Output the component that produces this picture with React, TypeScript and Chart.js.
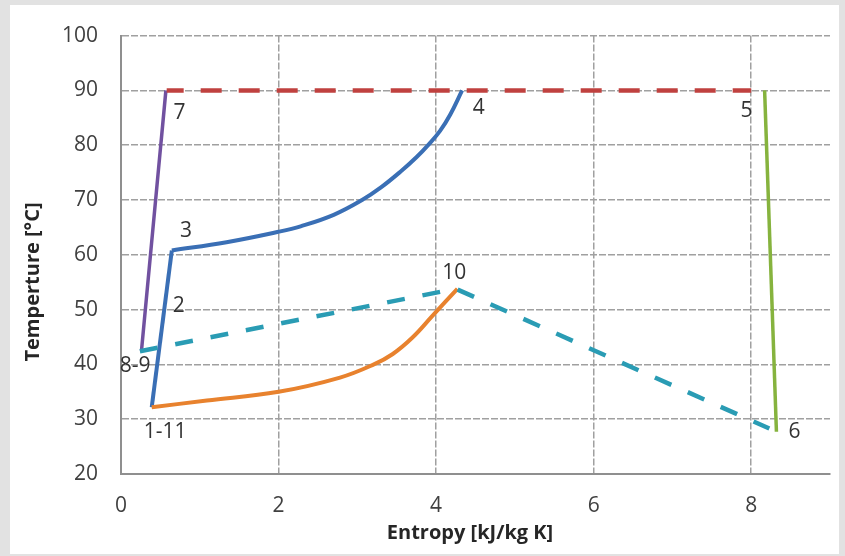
import React, { useEffect, useRef } from "react";
import { Chart, registerables } from "chart.js";

Chart.register(...registerables);

// ---- data (entropy [kJ/kg K], temperature [°C]) ----
const blueRiseS = [0.39, 0.645];
const blueRiseT = [32.2, 60.8];
const blueCurveS = [0.645, 1.34, 2.0, 2.28, 2.7, 3.06, 3.3, 3.55, 3.75, 3.91, 4.05, 4.18, 4.33];
const blueCurveT = [60.8, 62.3, 64.2, 65.2, 67.3, 70.0, 72.3, 75.2, 77.8, 80.2, 82.6, 85.6, 90.0];
const orangeS = [0.39, 1.09, 2.0, 2.78, 3.21, 3.45, 3.7, 3.95, 4.27];
const orangeT = [32.2, 33.4, 35.0, 37.6, 40.0, 41.9, 44.9, 48.8, 53.8];
const tealS = [0.24, 4.25, 8.23];
const tealT = [42.4, 53.8, 28.3];
const purpleS = [0.26, 0.57];
const purpleT = [42.5, 90.0];
const redS = [0.58, 8.0];
const redT = [90.0, 90.0];
const greenS = [8.17, 8.32];
const greenT = [90.0, 27.7];

const pointLabels = ["7", "4", "5", "3", "2", "10", "8-9", "1-11", "6"];
const pointLabelS = [0.744, 4.54, 7.94, 0.824, 0.733, 4.23, 0.178, 0.56, 8.55];
const pointLabelT = [85.8, 86.7, 86.3, 64.4, 50.6, 56.7, 39.7, 27.6, 27.65];

const xTitle = "Entropy [kJ/kg K]";
const yTitle = "Temperture [°C]";

const toXY = (xs: number[], ys: number[]) => xs.map((x, i) => ({ x, y: ys[i] }));

const FONT = "'Open Sans', 'Noto Sans', sans-serif";

export default function App() {
  const ref = useRef<HTMLCanvasElement | null>(null);

  useEffect(() => {
    const canvas = ref.current;
    if (!canvas) return;

    const bgPlugin = {
      id: "bgPanel",
      beforeDraw(chart: any) {
        const ctx = chart.ctx;
        ctx.save();
        ctx.fillStyle = "#e2e2e2";
        ctx.fillRect(0, 0, chart.width, chart.height);
        ctx.fillStyle = "#ffffff";
        ctx.fillRect(10, 5, 829, 549);
        ctx.restore();
      },
    };

    const textPlugin = {
      id: "texts",
      afterDatasetsDraw(chart: any) {
        const ctx = chart.ctx;
        const xs = chart.scales.x;
        const ys = chart.scales.y;
        ctx.save();
        ctx.fillStyle = "#333333";
        ctx.font = `21px ${FONT}`;
        ctx.textAlign = "center";
        ctx.textBaseline = "middle";
        pointLabels.forEach((t, i) => {
          ctx.fillText(t, xs.getPixelForValue(pointLabelS[i]), ys.getPixelForValue(pointLabelT[i]));
        });
        ctx.fillStyle = "#262626";
        ctx.font = `bold 20px ${FONT}`;
        ctx.fillText(xTitle, 470, 533);
        ctx.translate(33, 282);
        ctx.rotate(-Math.PI / 2);
        ctx.fillText(yTitle, 0, 0);
        ctx.restore();
      },
    };

    const line = (data: any[], color: string, width: number, extra: any = {}) => ({
      data,
      showLine: true,
      borderColor: color,
      backgroundColor: color,
      borderWidth: width,
      pointRadius: 0,
      fill: false,
      borderCapStyle: "butt",
      ...extra,
    });

    const chart = new Chart(canvas, {
      type: "scatter",
      data: {
        datasets: [
          line(toXY(redS, redT), "#c0413f", 4.5, { borderDash: [21, 17], borderDashOffset: 4 }),
          line(toXY(tealS, tealT), "#2a9cb4", 4.5, { borderDash: [18, 18] }),
          line(toXY(orangeS, orangeT), "#e8822e", 4, { tension: 0.4 }),
          line(toXY(purpleS, purpleT), "#7151a0", 3.5),
          line(toXY(greenS, greenT), "#86b33e", 3.5),
          line(toXY(blueRiseS, blueRiseT), "#3a6fb5", 4),
          line(toXY(blueCurveS, blueCurveT), "#3a6fb5", 4, { tension: 0.4 }),
        ] as any,
      },
      options: {
        animation: false,
        responsive: false,
        devicePixelRatio: 1,
        layout: { padding: { top: 32, right: 15, left: 0, bottom: 0 } },
        plugins: { legend: { display: false }, tooltip: { enabled: false } },
        scales: {
          x: {
            type: "linear",
            min: 0,
            max: 9,
            ticks: {
              stepSize: 2,
              includeBounds: false,
              font: { family: FONT, size: 21 },
              color: "#404040",
              padding: 19,
            },
            grid: { color: "#a0a0a0", lineWidth: 1.5, drawTicks: false },
            border: { display: true, color: "#8f8f8f", width: 2, dash: [7, 2] },
            afterFit: (s: any) => {
              s.height = 82;
            },
          },
          y: {
            type: "linear",
            min: 20,
            max: 100,
            ticks: {
              stepSize: 10,
              font: { family: FONT, size: 21 },
              color: "#404040",
              padding: 23,
            },
            grid: { color: "#a0a0a0", lineWidth: 1.5, drawTicks: false },
            border: { display: true, color: "#8f8f8f", width: 2, dash: [7, 2] },
            afterFit: (s: any) => {
              s.width = 121;
            },
          },
        },
      } as any,
      plugins: [bgPlugin, textPlugin],
    });

    return () => chart.destroy();
  }, []);

  return (
    <div style={{ position: "fixed", left: 0, top: 0, width: 845, height: 556 }}>
      <canvas ref={ref} width={845} height={556} style={{ display: "block" }} />
    </div>
  );
}
